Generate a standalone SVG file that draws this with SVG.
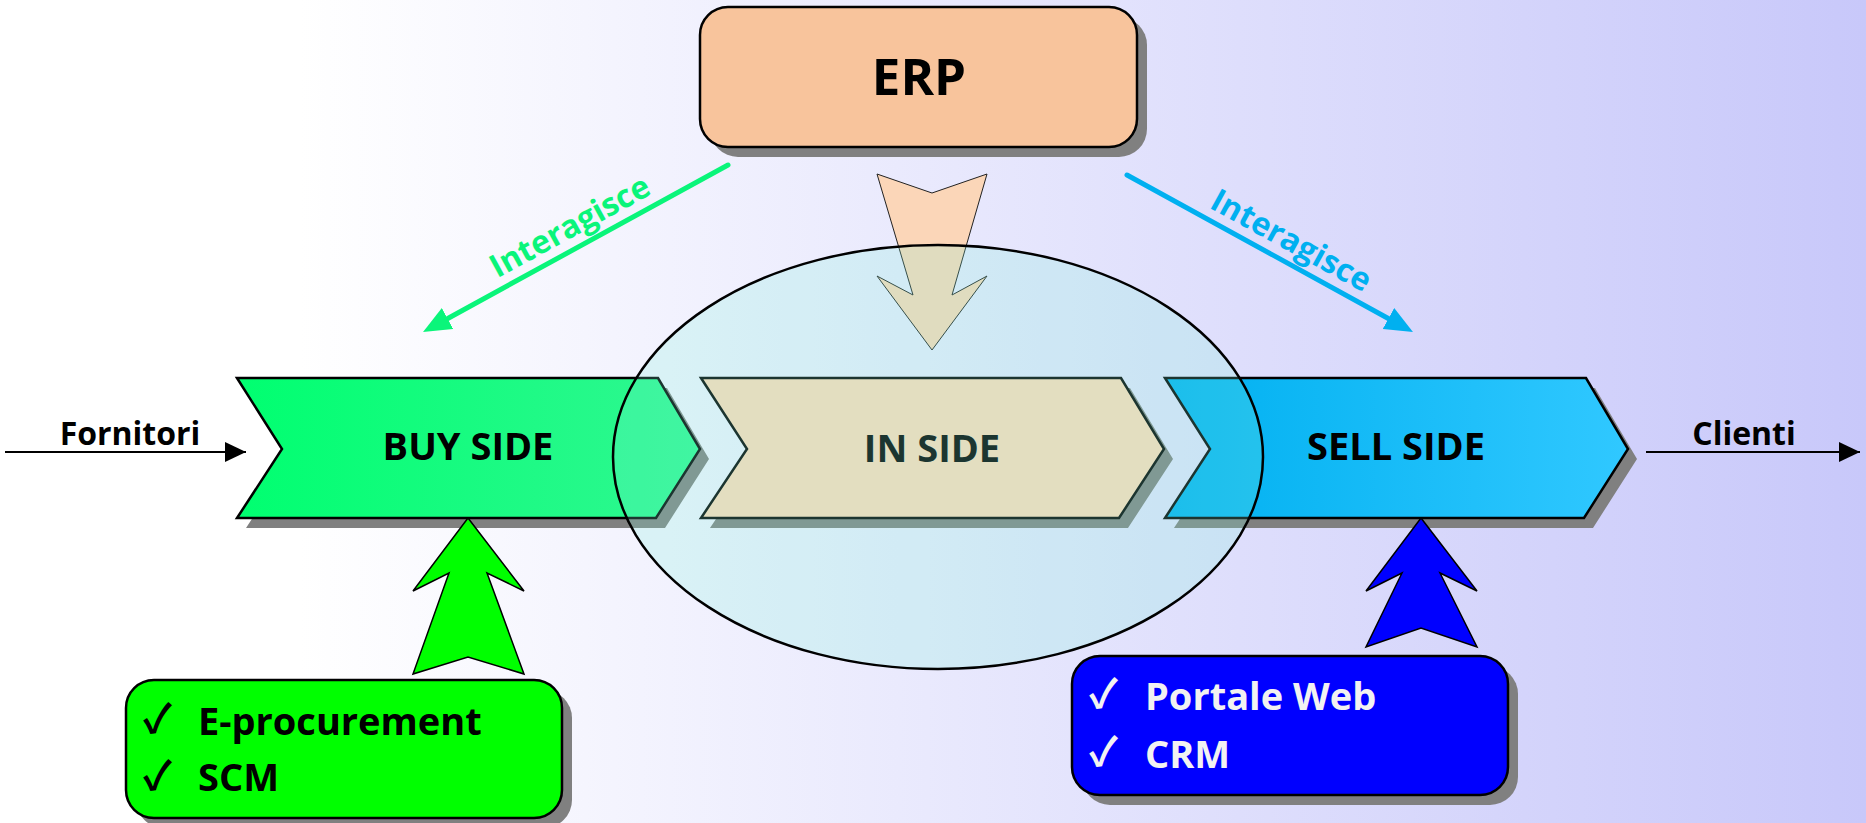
<svg xmlns="http://www.w3.org/2000/svg" width="1866" height="823" viewBox="0 0 1866 823">
<style>
.t{font-family:"Open Sans","Liberation Sans",sans-serif;font-weight:bold}
.chev{stroke:#000;stroke-width:2.5;stroke-linejoin:miter}
.shadow{fill:#808080}
.box{stroke:#000;stroke-width:2.5}
.blk{stroke:#000;stroke-width:1.5}
.chk{font-family:"Noto Sans CJK JP","DejaVu Sans",sans-serif;font-weight:bold;font-size:40px}
.lbl{font-family:"Open Sans","Liberation Sans",sans-serif;font-weight:bold;font-size:38px}
</style>
<defs>
<linearGradient id="bg" gradientUnits="userSpaceOnUse" x1="300" y1="0" x2="1866" y2="0">
<stop offset="0" stop-color="#FFFFFF"/>
<stop offset="1" stop-color="#C8C8FA"/>
</linearGradient>
<linearGradient id="gBuy" x1="0" y1="0" x2="1" y2="0">
<stop offset="0" stop-color="#00FF70"/>
<stop offset="1" stop-color="#30F792"/>
</linearGradient>
<linearGradient id="gSell" x1="0" y1="0" x2="1" y2="0">
<stop offset="0" stop-color="#00B0F0"/>
<stop offset="1" stop-color="#30C8FF"/>
</linearGradient>
<marker id="mBlack" markerUnits="userSpaceOnUse" markerWidth="22" markerHeight="20" refX="21" refY="10" orient="auto">
<path d="M0,0 L21,10 L0,20 z" fill="#000"/>
</marker>
<marker id="mGreen" markerUnits="userSpaceOnUse" markerWidth="28" markerHeight="24" refX="18" refY="12" orient="auto">
<path d="M0,0 L28,12 L0,24 z" fill="#0AF57A"/>
</marker>
<marker id="mBlue" markerUnits="userSpaceOnUse" markerWidth="28" markerHeight="24" refX="18" refY="12" orient="auto">
<path d="M0,0 L28,12 L0,24 z" fill="#00B0F0"/>
</marker>
</defs>
<rect x="0" y="0" width="1866" height="823" fill="url(#bg)"/>

<g id="buy-side">
<polygon class="shadow" points="246,388 291,459 246,528 665,528 709,459 667,388"/>
<polygon class="chev" fill="url(#gBuy)" points="237,378 282,449 237,518 656,518 700,449 658,378"/>
<text class="t" x="468" y="460" font-size="38" text-anchor="middle" fill="#000">BUY SIDE</text>
</g>
<g id="in-side">
<polygon class="shadow" points="710,388 756,459 710,528 1128,528 1173,459 1130,388"/>
<polygon class="chev" fill="#FFD9B9" points="701,378 747,449 701,518 1119,518 1164,449 1121,378"/>
<text class="t" x="932" y="462" font-size="38" text-anchor="middle" fill="#000">IN SIDE</text>
</g>
<g id="sell-side">
<polygon class="shadow" points="1174,388 1219,459 1174,528 1593,528 1637,459 1595,388"/>
<polygon class="chev" fill="url(#gSell)" points="1165,378 1210,449 1165,518 1584,518 1628,449 1586,378"/>
<text class="t" x="1396" y="460" font-size="38" text-anchor="middle" fill="#000">SELL SIDE</text>
</g>

<g id="connectors">
<polygon id="erp-to-inside" points="877,174 932,193 987,174 952,295 987,276 932,350 877,276 913,295" fill="#FBD6B8" stroke="#222" stroke-width="1"/>
<polygon id="eproc-to-buy" class="blk" fill="#00FF00" points="468,518 524,591 487,573 524,674 468,657 413,674 449,573 413,591"/>
<polygon id="portale-to-sell" class="blk" fill="#0000FF" points="1421,518 1477,591 1440,573 1477,647 1421,628 1366,647 1402,573 1366,591"/>
<line id="fornitori" x1="5" y1="452" x2="246" y2="452" stroke="#000" stroke-width="2.2" marker-end="url(#mBlack)"/>
<text class="t" x="130" y="445" font-size="32" text-anchor="middle" fill="#000">Fornitori</text>
<line id="clienti" x1="1646" y1="452" x2="1860" y2="452" stroke="#000" stroke-width="2.2" marker-end="url(#mBlack)"/>
<text class="t" x="1744" y="445" font-size="32" text-anchor="middle" fill="#000">Clienti</text>
<line id="erp-to-buy" x1="728" y1="165" x2="431.8" y2="327.2" stroke="#0AF57A" stroke-width="5" stroke-linecap="round" marker-end="url(#mGreen)"/>
<text class="t" x="575" y="236" font-size="32" text-anchor="middle" fill="#0AF57A" transform="rotate(-28.7 575 236)">Interagisce</text>
<line id="erp-to-sell" x1="1127" y1="175" x2="1404.2" y2="327.2" stroke="#00B0F0" stroke-width="5" stroke-linecap="round" marker-end="url(#mBlue)"/>
<text class="t" x="1286" y="250" font-size="32" text-anchor="middle" fill="#00B0F0" transform="rotate(28.8 1286 250)">Interagisce</text>
</g>

<g id="integration-zone">
<ellipse cx="938" cy="457" rx="325" ry="212" fill="rgb(128,240,220)" fill-opacity="0.22" stroke="#000" stroke-width="2.5"/>
</g>

<g id="erp">
<rect class="shadow" x="710" y="17" width="437" height="140" rx="28"/>
<rect class="box" x="700" y="7" width="437" height="140" rx="28" fill="#F8C49C"/>
<text class="t" x="919" y="95" font-size="51" text-anchor="middle" fill="#000">ERP</text>
</g>

<g id="buy-tools">
<rect class="shadow" x="136" y="690" width="436" height="138" rx="28"/>
<rect class="box" x="126" y="680" width="436" height="138" rx="28" fill="#00FF00"/>
<text fill="#000"><tspan class="chk" x="143" y="733">✓</tspan><tspan class="lbl" x="198" y="735">E-procurement</tspan><tspan class="chk" x="143" y="790">✓</tspan><tspan class="lbl" x="198" y="791">SCM</tspan></text>
</g>

<g id="sell-tools">
<rect class="shadow" x="1082" y="666" width="436" height="139" rx="28"/>
<rect class="box" x="1072" y="656" width="436" height="139" rx="28" fill="#0000FF"/>
<text fill="#F2F2F2"><tspan class="chk" x="1089" y="708">✓</tspan><tspan class="lbl" x="1145" y="710">Portale Web</tspan><tspan class="chk" x="1089" y="766">✓</tspan><tspan class="lbl" x="1145" y="768">CRM</tspan></text>
</g>
</svg>
